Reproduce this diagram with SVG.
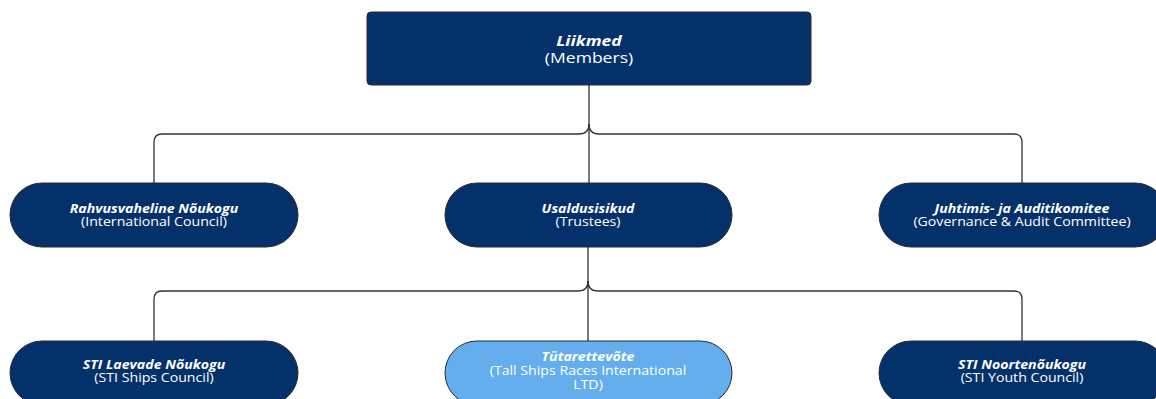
<svg xmlns="http://www.w3.org/2000/svg" width="1156" height="399" viewBox="0 0 1156 399">
<defs>
<style>
.box{fill:#05316b;stroke:#2a2a2a;stroke-width:1}
.light{fill:#64aeee;stroke:#2a2a2a;stroke-width:1}
.conn{fill:none;stroke:#333;stroke-width:1.3}
text{font-family:"Open Sans","Noto Sans","DejaVu Sans",sans-serif;fill:#ffffff;text-anchor:middle}
.t{font-weight:bold;font-style:italic;font-size:12px}
.s{font-size:12px}
.tt{font-weight:bold;font-style:italic;font-size:15px}
.ss{font-size:15px}
</style>
</defs>
<rect width="1156" height="399" fill="#ffffff"/>
<g id="connectors">
<path class="conn" d="M589,85 V124 Q589,134 579,134 H162 Q154,134 154,142 V183"/>
<path class="conn" d="M589,124 Q589,134 599,134 H1014 Q1022,134 1022,142 V183"/>
<path class="conn" d="M589,124 V183"/>
<path class="conn" d="M588,247 V281 Q588,291 578,291 H162 Q154,291 154,299 V341"/>
<path class="conn" d="M588,281 Q588,291 598,291 H1014 Q1022,291 1022,299 V341"/>
<path class="conn" d="M588,281 V341"/>
</g>
<g id="members">
<rect class="box" x="367" y="12" width="444" height="73" rx="4"/>
<g transform="translate(589,0) scale(1.17,1)">
<text class="tt" x="0" y="46">Liikmed</text>
<text class="ss" x="0" y="63">(Members)</text>
</g>
</g>
<g id="international-council">
<rect class="box" x="10" y="183" width="288" height="64" rx="32"/>
<g transform="translate(154,0) scale(1.18,1)">
<text class="t" x="0" y="213">Rahvusvaheline Nõukogu</text>
<text class="s" x="0" y="226">(International Council)</text>
</g>
</g>
<g id="trustees">
<rect class="box" x="445" y="183" width="287" height="64" rx="32"/>
<g transform="translate(588,0) scale(1.18,1)">
<text class="t" x="0" y="213">Usaldusisikud</text>
<text class="s" x="0" y="226">(Trustees)</text>
</g>
</g>
<g id="governance">
<rect class="box" x="879" y="183" width="288" height="64" rx="32"/>
<g transform="translate(1022,0) scale(1.18,1)">
<text class="t" x="0" y="213">Juhtimis- ja Auditikomitee</text>
<text class="s" x="0" y="226">(Governance &amp; Audit Committee)</text>
</g>
</g>
<g id="ships-council">
<rect class="box" x="10" y="341" width="288" height="64" rx="32"/>
<g transform="translate(154,0) scale(1.18,1)">
<text class="t" x="0" y="369">STI Laevade Nõukogu</text>
<text class="s" x="0" y="382">(STI Ships Council)</text>
</g>
</g>
<g id="subsidiary">
<rect class="light" x="445" y="341" width="287" height="64" rx="32"/>
<g transform="translate(588,0) scale(1.18,1)">
<text class="t" x="0" y="361">Tütarettevõte</text>
<text class="s" x="0" y="375">(Tall Ships Races International</text>
<text class="s" x="0" y="389">LTD)</text>
</g>
</g>
<g id="youth-council">
<rect class="box" x="879" y="341" width="288" height="64" rx="32"/>
<g transform="translate(1022,0) scale(1.18,1)">
<text class="t" x="0" y="369">STI Noortenõukogu</text>
<text class="s" x="0" y="382">(STI Youth Council)</text>
</g>
</g>
</svg>
